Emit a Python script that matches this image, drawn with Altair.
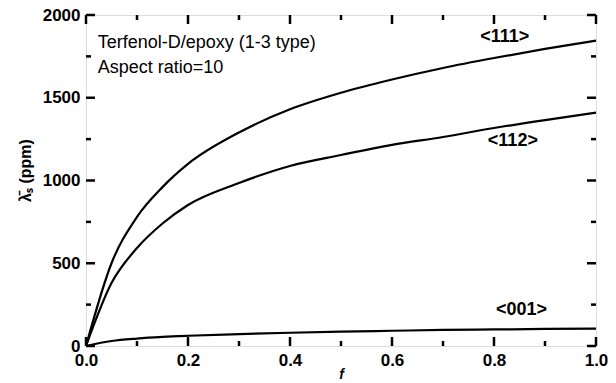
import altair as alt
import pandas as pd

f_vals = [0.0, 0.05, 0.1, 0.15, 0.2, 0.3, 0.4, 0.5, 0.6, 0.7, 0.8, 0.9, 1.0]
s111 = [0, 500, 780, 960, 1100, 1290, 1430, 1530, 1610, 1680, 1740, 1795, 1845]
s112 = [0, 380, 592, 740, 852, 985, 1088, 1154, 1215, 1263, 1317, 1365, 1410]
s001 = [0, 30, 45, 55, 62, 72, 80, 87, 92, 97, 100, 103, 105]

lab_text = ["<111>", "<112>", "<001>"]
lab_f = [0.821, 0.837, 0.854]
lab_y = [1867, 1239, 217]

note_text = ["Terfenol-D/epoxy (1-3 type)", "Aspect ratio=10"]
note_f = [0.023, 0.023]
note_y = [1831, 1680]

xticks = [0.0, 0.2, 0.4, 0.6, 0.8, 1.0]
xminor = [0.1, 0.3, 0.5, 0.7, 0.9]
yticks = [0, 500, 1000, 1500, 2000]
yminor = [250, 750, 1250, 1750]

rows = []
for name, ser in [("<111>", s111), ("<112>", s112), ("<001>", s001)]:
    for fv, v in zip(f_vals, ser):
        rows.append({"f": fv, "v": v, "s": name})
df = pd.DataFrame(rows)

W, H = 510, 331
FONT = "Liberation Sans"
XMAX, YMAX = 1.0, 2000.0
MAJ, MIN = 9, 5  # tick lengths in px

xs = alt.Scale(domain=[0, 1], nice=False)
ys = alt.Scale(domain=[0, 2000], nice=False)

lines = alt.Chart(df).mark_line(color="black", strokeWidth=2.2, interpolate="monotone").encode(
    x=alt.X("f:Q", scale=xs, axis=alt.Axis(values=xticks, format=".1f", title="f", titleFontStyle="italic",
                                            titleFontSize=14, titleFont=FONT, titleY=28, titleBaseline="middle",
                                            labelFont=FONT, labelFontSize=17, labelFontWeight="bold",
                                            labelFlush=False, labelBound=False,
                                            labelColor="black", tickSize=0, labelPadding=6, domain=False,
                                            grid=False, titleColor="black")),
    y=alt.Y("v:Q", scale=ys, axis=alt.Axis(values=yticks, format="d", title="λ̄ₛ (ppm)", titleFont=FONT,
                                            titleFontSize=16, titleFontWeight="bold", titleX=-61, titleY=155,
                                            titleBaseline="middle", titleAlign="center", titleColor="black",
                                            labelFont=FONT, labelFontSize=17, labelFontWeight="bold",
                                            labelFlush=False, labelBound=False, labelOverlap=False,
                                            labelColor="black", tickSize=0, labelPadding=6, domain=False,
                                            grid=False)),
    detail="s:N",
)

labels = alt.Chart(pd.DataFrame({"t": lab_text, "f": lab_f, "v": lab_y})).mark_text(
    font=FONT, fontSize=18, fontWeight="bold", color="black").encode(
    x=alt.X("f:Q", scale=xs), y=alt.Y("v:Q", scale=ys), text="t:N")

notes = alt.Chart(pd.DataFrame({"t": note_text, "f": note_f, "v": note_y})).mark_text(
    font=FONT, fontSize=18, color="black", align="left").encode(
    x=alt.X("f:Q", scale=xs), y=alt.Y("v:Q", scale=ys), text="t:N")

# tick segments (inside the frame, on all four sides)
xt_rows = []
for vals, L in [(xticks, MAJ), (xminor, MIN)]:
    dy = L / H * YMAX
    for v in vals:
        xt_rows.append({"tf": v, "ty1": 0.0, "ty2": dy})
        xt_rows.append({"tf": v, "ty1": YMAX, "ty2": YMAX - dy})
yt_rows = []
for vals, L in [(yticks, MAJ), (yminor, MIN)]:
    dx = L / W * XMAX
    for v in vals:
        yt_rows.append({"tv": v, "tx1": 0.0, "tx2": dx})
        yt_rows.append({"tv": v, "tx1": XMAX, "tx2": XMAX - dx})

xtick = alt.Chart(pd.DataFrame(xt_rows)).mark_rule(color="black", strokeWidth=2.5).encode(
    x=alt.X("tf:Q", scale=xs), y=alt.Y("ty1:Q", scale=ys), y2="ty2:Q")
ytick = alt.Chart(pd.DataFrame(yt_rows)).mark_rule(color="black", strokeWidth=2.5).encode(
    y=alt.Y("tv:Q", scale=ys), x=alt.X("tx1:Q", scale=xs), x2="tx2:Q")

chart = alt.layer(lines, labels, notes, xtick, ytick).properties(
    width=W, height=H,
    autosize=alt.AutoSizeParams(type="none"),
    padding={"left": 78, "top": 7, "right": 12, "bottom": 36},
).configure_view(stroke="black", strokeWidth=2).configure(background="white")

chart.save("out.html", embed_options={"renderer": "svg", "actions": False})
